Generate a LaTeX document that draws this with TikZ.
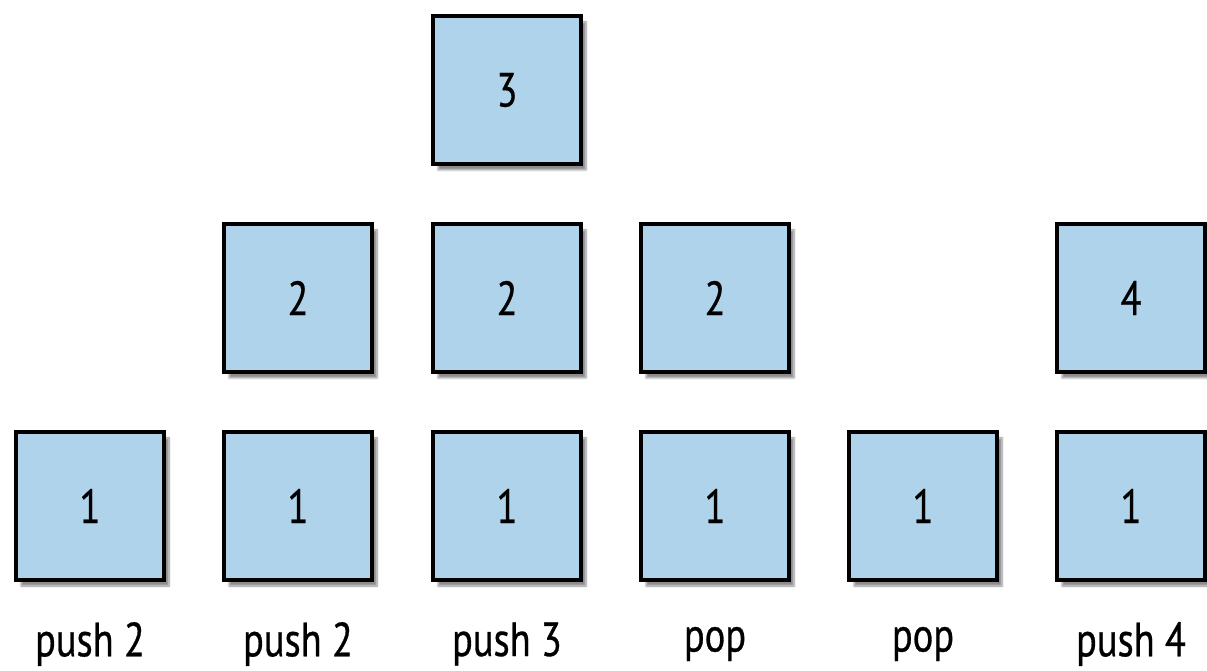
\documentclass[tikz,border=0pt]{standalone}
\usepackage{fontspec}
\setmainfont[FakeStretch=0.8,FakeBold=0.6]{PT Sans}
\usetikzlibrary{shadows.blur}
\definecolor{boxfill}{HTML}{AFD3EA}
\tikzset{
  cell/.style={draw=black, line width=4.5pt, fill=boxfill, minimum width=148pt, minimum height=148pt, inner sep=0pt,
    blur shadow={shadow xshift=5pt, shadow yshift=-6pt, shadow blur steps=8, shadow opacity=45},
    font=\fontsize{48}{54}\selectfont},
  lbl/.style={font=\fontsize{48}{54}\selectfont, inner sep=0pt}
}
\begin{document}
\begin{tikzpicture}[x=1pt,y=1pt]
\useasboundingbox (0,0) rectangle (1207,670);
% bottom row
\node[cell] (a1) at (90,164) {1};
\node[cell] (b1) at (298,164) {1};
\node[cell] (c1) at (507,164) {1};
\node[cell] (d1) at (715,164) {1};
\node[cell] (e1) at (923,164) {1};
\node[cell] (f1) at (1131,164) {1};
% middle row
\node[cell] (b2) at (298,372) {2};
\node[cell] (c2) at (507,372) {2};
\node[cell] (d2) at (715,372) {2};
\node[cell] (f2) at (1131,372) {4};
% top row
\node[cell] (c3) at (507,580) {3};
% labels
\node[lbl] (la) at (90,26) {push 2};
\node[lbl] (lb) at (298,26) {push 2};
\node[lbl] (lc) at (507,26) {push 3};
\node[lbl] (ld) at (715,26) {pop};
\node[lbl] (le) at (923,26) {pop};
\node[lbl] (lf) at (1131,26) {push 4};
\end{tikzpicture}
\end{document}
